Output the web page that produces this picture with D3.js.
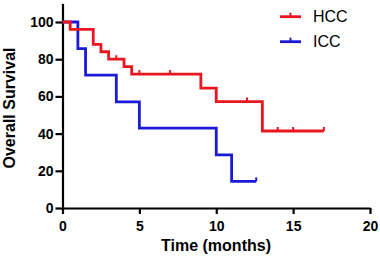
<!DOCTYPE html>
<meta charset="utf-8">
<style>
  body { margin: 0; padding: 0; background: #fff; }
  svg { display: block; }
  text { font-family: "Liberation Sans", Arial, sans-serif; }
  .axis text { font-size: 14px; font-weight: bold; fill: #000; }
  .axis path, .axis line { stroke: #000; stroke-width: 2.2px; }
  .axis-title { font-size: 16px; font-weight: bold; }
  .legend text { font-size: 16px; }
</style>
<script src="https://cdnjs.cloudflare.com/ajax/libs/d3/7.8.5/d3.min.js"></script>
<body>
<div id="chart"></div>
<script>
// Kaplan-Meier step data (time in months, survival %)
var hccTimes = [0, 0.5, 2, 2.5, 3, 4, 4.5, 9, 10, 13, 17];
var hccSurv  = [100, 96, 88, 84, 80, 76, 72, 64.5, 57.2, 41.4, 41.4];
var hccCensor = [3.5, 5, 7, 12, 14, 15, 17];

var iccTimes = [0, 1, 1.5, 3.5, 5, 10, 11, 12.6];
var iccSurv  = [100, 85.7, 71.4, 57.1, 42.9, 28.6, 14.3, 14.3];
var iccCensor = [12.6];

var xTicks = [0, 5, 10, 15, 20];
var yTicks = [0, 20, 40, 60, 80, 100];

var W = 380, H = 257;
var red = "#ea1620", blue = "#1a1ad8";

var svg = d3.select("#chart").append("svg")
    .attr("width", W)
    .attr("height", H);

var x = d3.scaleLinear().domain([0, 20]).range([62.5, 370]);
var y = d3.scaleLinear().domain([0, 110]).range([208, 3.4]);

// axes
svg.append("g")
    .attr("class", "axis")
    .attr("transform", "translate(0," + y(0) + ")")
    .call(d3.axisBottom(x).tickValues(xTicks).tickSize(6).tickSizeOuter(0).tickPadding(7));

svg.append("g")
    .attr("class", "axis")
    .attr("transform", "translate(" + x(0) + ",0)")
    .call(d3.axisLeft(y).tickValues(yTicks).tickSize(7).tickSizeOuter(0).tickPadding(2));

// survival value at time t for a step curve
function survAt(times, surv, t) {
  var v = surv[0];
  for (var i = 0; i < times.length; i++) {
    if (times[i] <= t) v = surv[i];
  }
  return v;
}

var line = d3.line()
    .x(function(d) { return x(d[0]); })
    .y(function(d) { return y(d[1]); })
    .curve(d3.curveStepAfter);

function drawCurve(times, surv, censor, color) {
  var pts = times.map(function(t, i) { return [t, surv[i]]; });
  svg.append("path")
      .datum(pts)
      .attr("fill", "none")
      .attr("stroke", color)
      .attr("stroke-width", 2.8)
      .attr("d", line);
  svg.append("g").selectAll("line")
      .data(censor)
      .enter().append("line")
      .attr("x1", function(d) { return x(d); })
      .attr("x2", function(d) { return x(d); })
      .attr("y1", function(d) { return y(survAt(times, surv, d)); })
      .attr("y2", function(d) { return y(survAt(times, surv, d)) - 4; })
      .attr("stroke", color)
      .attr("stroke-width", 2);
}

drawCurve(iccTimes, iccSurv, iccCensor, blue);
drawCurve(hccTimes, hccSurv, hccCensor, red);

// axis titles
svg.append("text")
    .attr("class", "axis-title")
    .attr("x", 216)
    .attr("y", 251)
    .attr("text-anchor", "middle")
    .text("Time (months)");

svg.append("text")
    .attr("class", "axis-title")
    .attr("transform", "translate(15,108) rotate(-90)")
    .attr("text-anchor", "middle")
    .text("Overall Survival");

// legend
var legend = svg.append("g").attr("class", "legend");
[["HCC", red, 16.7], ["ICC", blue, 41.7]].forEach(function(d) {
  legend.append("line")
      .attr("x1", 280).attr("x2", 301)
      .attr("y1", d[2]).attr("y2", d[2])
      .attr("stroke", d[1]).attr("stroke-width", 2.8);
  legend.append("line")
      .attr("x1", 290.5).attr("x2", 290.5)
      .attr("y1", d[2]).attr("y2", d[2] - 4)
      .attr("stroke", d[1]).attr("stroke-width", 2);
  legend.append("text")
      .attr("x", 313)
      .attr("y", d[2] + 5.5)
      .text(d[0]);
});
</script>
</body>
